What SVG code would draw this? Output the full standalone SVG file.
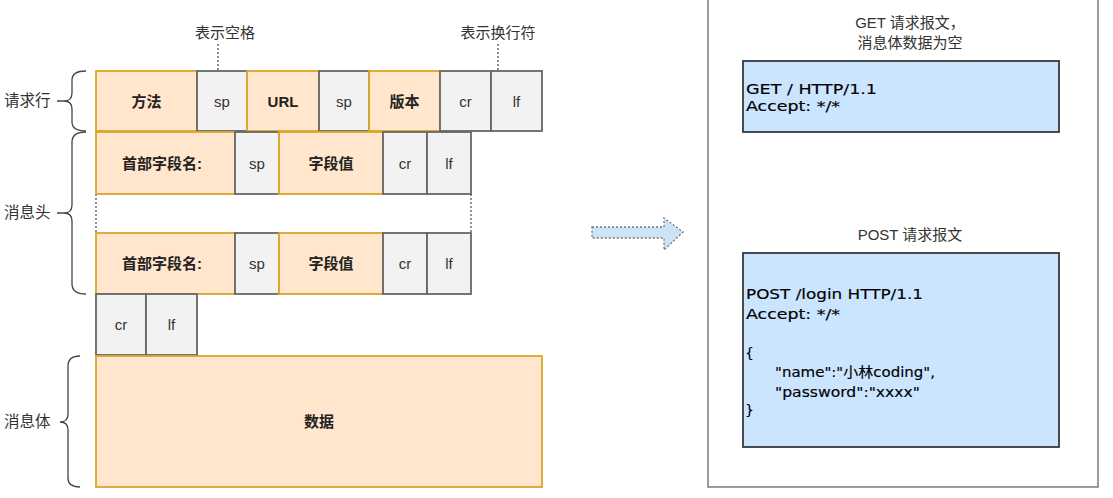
<svg xmlns="http://www.w3.org/2000/svg" width="1113" height="498" viewBox="0 0 1113 498">
<style>
.o{fill:#ffe6cc;stroke:#dba52a;stroke-width:1.8}
.g{fill:#f2f2f2;stroke:#666;stroke-width:1.8}
.b{fill:#cce5ff;stroke:#36393d;stroke-width:1.8}
.tb{font-family:"Liberation Sans","Noto Sans CJK SC",sans-serif;font-size:15px;font-weight:bold;fill:#222;text-anchor:middle}
.tn{font-family:"Liberation Sans","Noto Sans CJK SC",sans-serif;font-size:15px;fill:#333;text-anchor:middle}
.tt{font-family:"Liberation Sans","Noto Sans CJK SC",sans-serif;font-size:15px;fill:#333;text-anchor:middle}
.lb{font-family:"Liberation Sans","Noto Sans CJK SC",sans-serif;font-size:15.5px;fill:#333}
.code{font-family:"DejaVu Sans","Noto Sans CJK SC",sans-serif;font-size:14px;fill:#000;stroke:#000;stroke-width:0.15}
.br{fill:none;stroke:#444;stroke-width:1.3}
.dot{fill:none;stroke:#555;stroke-width:1.3;stroke-dasharray:2 2}
</style>

<g id="annotations">
<text class="tt" x="225" y="38">表示空格</text>
<text class="tt" x="498" y="38">表示换行符</text>
</g>

<g id="connectors">
<line class="dot" x1="218" y1="44" x2="218" y2="71"/>
<line class="dot" x1="498" y1="44" x2="498" y2="71"/>
<line class="dot" x1="96" y1="194" x2="96" y2="233"/>
<line class="dot" x1="471" y1="194" x2="471" y2="233"/>
<path id="arrow" d="M592,227 L664,227 L664,218 L683,232 L664,250 L664,238 L592,238 Z" fill="#cfe3f8" stroke="#777" stroke-width="1.3" stroke-dasharray="2 2"/>
</g>

<g id="brace-request-line">
<path class="br" d="M86,71 Q72,71 72,80 L72,93 Q72,101 64,101 Q72,101 72,109 L72,122 Q72,131 86,131 M57,101 L64,101"/>
<text class="lb" x="4" y="106">请求行</text>
</g>
<g id="brace-header">
<path class="br" d="M86,132 Q72,132 72,142 L72,205 Q72,213 64,213 Q72,213 72,221 L72,284 Q72,294 86,294 M57,213 L64,213"/>
<text class="lb" x="4" y="218">消息头</text>
</g>
<g id="brace-body">
<path class="br" d="M80,356 Q68,356 68,366 L68,414 Q68,422 60,422 Q68,422 68,430 L68,478 Q68,487 80,487"/>
<text class="lb" x="4" y="427">消息体</text>
</g>

<g id="request-line">
<rect class="o" x="96" y="71" width="101" height="60"/><text class="tb" x="146.5" y="106.5">方法</text>
<rect class="g" x="197" y="71" width="50" height="60"/><text class="tn" x="222" y="106.5">sp</text>
<rect class="o" x="247" y="71" width="72" height="60"/><text class="tb" x="283" y="106.5">URL</text>
<rect class="g" x="319" y="71" width="50" height="60"/><text class="tn" x="344" y="106.5">sp</text>
<rect class="o" x="369" y="71" width="71" height="60"/><text class="tb" x="404.5" y="106.5">版本</text>
<rect class="g" x="440" y="71" width="51" height="60"/><text class="tn" x="465.5" y="106.5">cr</text>
<rect class="g" x="491" y="71" width="51" height="60"/><text class="tn" x="516.5" y="106.5">lf</text>
</g>

<g id="header-1">
<rect class="o" x="96" y="132" width="139" height="62"/><text class="tb" x="162" y="168.5">首部字段名:</text>
<rect class="g" x="235" y="132" width="44" height="62"/><text class="tn" x="257" y="168.5">sp</text>
<rect class="o" x="279" y="132" width="104" height="62"/><text class="tb" x="331" y="168.5">字段值</text>
<rect class="g" x="383" y="132" width="44" height="62"/><text class="tn" x="405" y="168.5">cr</text>
<rect class="g" x="427" y="132" width="44" height="62"/><text class="tn" x="449" y="168.5">lf</text>
</g>

<g id="header-2">
<rect class="o" x="96" y="233" width="139" height="61"/><text class="tb" x="162" y="269">首部字段名:</text>
<rect class="g" x="235" y="233" width="44" height="61"/><text class="tn" x="257" y="269">sp</text>
<rect class="o" x="279" y="233" width="104" height="61"/><text class="tb" x="331" y="269">字段值</text>
<rect class="g" x="383" y="233" width="44" height="61"/><text class="tn" x="405" y="269">cr</text>
<rect class="g" x="427" y="233" width="44" height="61"/><text class="tn" x="449" y="269">lf</text>
</g>

<g id="empty-line">
<rect class="g" x="96" y="294" width="50" height="61"/><text class="tn" x="121" y="330">cr</text>
<rect class="g" x="146" y="294" width="51" height="61"/><text class="tn" x="171.5" y="330">lf</text>
</g>

<g id="body">
<rect class="o" x="96" y="356" width="446" height="131"/><text class="tb" x="319" y="427">数据</text>
</g>

<g id="examples-panel">
<rect x="708" y="-2" width="390" height="489" fill="#fff" stroke="#666" stroke-width="1.3"/>
</g>

<g id="get-example">
<text class="tt" x="910" y="28">GET 请求报文，</text>
<text class="tt" x="910" y="48">消息体数据为空</text>
<rect class="b" x="743" y="61" width="316" height="71"/>
<text class="code" x="746" y="94" textLength="131" lengthAdjust="spacingAndGlyphs">GET / HTTP/1.1</text>
<text class="code" x="746" y="111" textLength="94" lengthAdjust="spacingAndGlyphs">Accept: */*</text>
</g>

<g id="post-example">
<text class="tt" x="910" y="240">POST 请求报文</text>
<rect class="b" x="743" y="253" width="316" height="194"/>
<text class="code" x="746" y="299" textLength="177" lengthAdjust="spacingAndGlyphs">POST /login HTTP/1.1</text>
<text class="code" x="746" y="319" textLength="94" lengthAdjust="spacingAndGlyphs">Accept: */*</text>
<text class="code" x="745" y="358">{</text>
<text class="code" x="775" y="377" textLength="160" lengthAdjust="spacingAndGlyphs">"name":"小林coding",</text>
<text class="code" x="775" y="397" textLength="145" lengthAdjust="spacingAndGlyphs">"password":"xxxx"</text>
<text class="code" x="745" y="415">}</text>
</g>
</svg>
